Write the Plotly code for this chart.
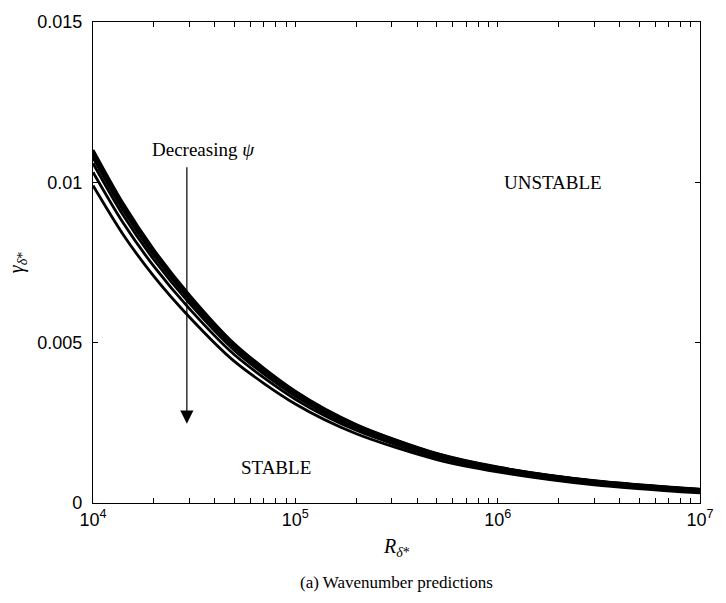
import numpy as np
import plotly.graph_objects as go

# Reynolds number based on displacement thickness
R_delta = [1e4, 1.4e4, 2e4, 3e4, 5e4, 1e5, 2e5, 5e5, 1e6, 3e6, 1e7]

# Neutral wavenumber curves, one per value of psi (largest psi first)
gamma_psi1 = [0.011010, 0.009369, 0.007897, 0.006484, 0.004966, 0.003487, 0.002449, 0.001545, 0.001123, 0.000698, 0.000433]
gamma_psi2 = [0.010941, 0.009308, 0.007845, 0.006441, 0.004932, 0.003462, 0.002431, 0.001533, 0.001114, 0.000690, 0.000426]
gamma_psi3 = [0.010861, 0.009239, 0.007786, 0.006392, 0.004892, 0.003433, 0.002410, 0.001520, 0.001103, 0.000681, 0.000417]
gamma_psi4 = [0.010772, 0.009161, 0.007719, 0.006336, 0.004848, 0.003401, 0.002387, 0.001504, 0.001091, 0.000670, 0.000407]
gamma_psi5 = [0.010594, 0.009005, 0.007586, 0.006225, 0.004760, 0.003337, 0.002340, 0.001474, 0.001067, 0.000649, 0.000388]
gamma_psi6 = [0.010316, 0.008763, 0.007378, 0.006053, 0.004622, 0.003237, 0.002268, 0.001426, 0.001029, 0.000617, 0.000358]
gamma_psi7 = [0.009900, 0.008399, 0.007067, 0.005794, 0.004416, 0.003087, 0.002159, 0.001355, 0.000973, 0.000568, 0.000313]

curves = [gamma_psi1, gamma_psi2, gamma_psi3, gamma_psi4, gamma_psi5, gamma_psi6, gamma_psi7]

x_tickvals = [1e4, 1e5, 1e6, 1e7]
x_ticktext = ["10<sup>4</sup>", "10<sup>5</sup>", "10<sup>6</sup>", "10<sup>7</sup>"]
x_minor = [m * 10 ** d for d in (4, 5, 6) for m in range(2, 10)]
y_tickvals = [0, 0.005, 0.01, 0.015]
y_ticktext = ["0", "0.005", "0.01", "0.015"]

SANS = "Liberation Sans, Arial, sans-serif"
SERIF = "Liberation Serif, Times New Roman, serif"

fig = go.Figure()
for g in curves:
    fig.add_trace(go.Scatter(
        x=R_delta, y=g, mode="lines",
        line=dict(color="black", width=2.8, shape="spline", smoothing=0.8),
        showlegend=False, hoverinfo="skip",
    ))

# arrow showing the direction of decreasing psi
arrow_R = 2.91e4
arrow_tip, arrow_tail = 0.00247, 0.01052
arrow_x = float(np.log10(arrow_R))

fig.update_layout(
    width=726, height=603,
    margin=dict(l=93, r=19, t=18, b=100),
    plot_bgcolor="white", paper_bgcolor="white",
    xaxis=dict(
        type="log", range=[4, 7],
        tickvals=x_tickvals, ticktext=x_ticktext,
        ticks="inside", ticklen=5, tickwidth=1, tickcolor="black",
        showline=True, linecolor="black", linewidth=1.2, mirror="ticks",
        showgrid=False, zeroline=False,
        tickfont=dict(family=SANS, size=18, color="black"),
        minor=dict(tickvals=x_minor, ticks="inside", ticklen=5, tickwidth=1,
                   tickcolor="black", showgrid=False),
    ),
    yaxis=dict(
        range=[0, 0.015],
        tickvals=y_tickvals, ticktext=y_ticktext,
        ticks="inside", ticklen=5, tickwidth=1, tickcolor="black",
        showline=True, linecolor="black", linewidth=1.2, mirror="ticks",
        showgrid=False, zeroline=False,
        tickfont=dict(family=SANS, size=18, color="black"),
        ticklabelstandoff=6,
    ),
    annotations=[
        dict(x=arrow_x, y=arrow_tip, ax=arrow_x, ay=arrow_tail,
             xref="x", yref="y", axref="x", ayref="y", text="",
             showarrow=True, arrowhead=2, arrowsize=2.2, arrowwidth=1.2,
             arrowcolor="black"),
        dict(x=4.547, y=0.01101, xref="x", yref="y", text="Decreasing <i>ψ</i>",
             showarrow=False, font=dict(family=SERIF, size=19, color="black")),
        dict(x=6.272, y=0.00999, xref="x", yref="y", text="UNSTABLE",
             showarrow=False, font=dict(family=SERIF, size=19, color="black")),
        dict(x=4.904, y=0.001113, xref="x", yref="y", text="STABLE",
             showarrow=False, font=dict(family=SERIF, size=19, color="black")),
        dict(x=0.5, y=-0.093, xref="paper", yref="paper",
             text="<i>R</i><sub><i>δ</i>*</sub>", showarrow=False,
             yanchor="middle", font=dict(family=SERIF, size=20, color="black")),
        dict(x=-0.124, y=0.5, xref="paper", yref="paper",
             text="<i>γ</i><sub><i>δ</i>*</sub>", showarrow=False, textangle=-90,
             xanchor="center", yanchor="middle",
             font=dict(family=SERIF, size=20, color="black")),
        dict(x=0.5, y=-0.165, xref="paper", yref="paper",
             text="(a) Wavenumber predictions", showarrow=False,
             yanchor="middle", font=dict(family=SERIF, size=17, color="black")),
    ],
)

fig.write_html("out.html")
